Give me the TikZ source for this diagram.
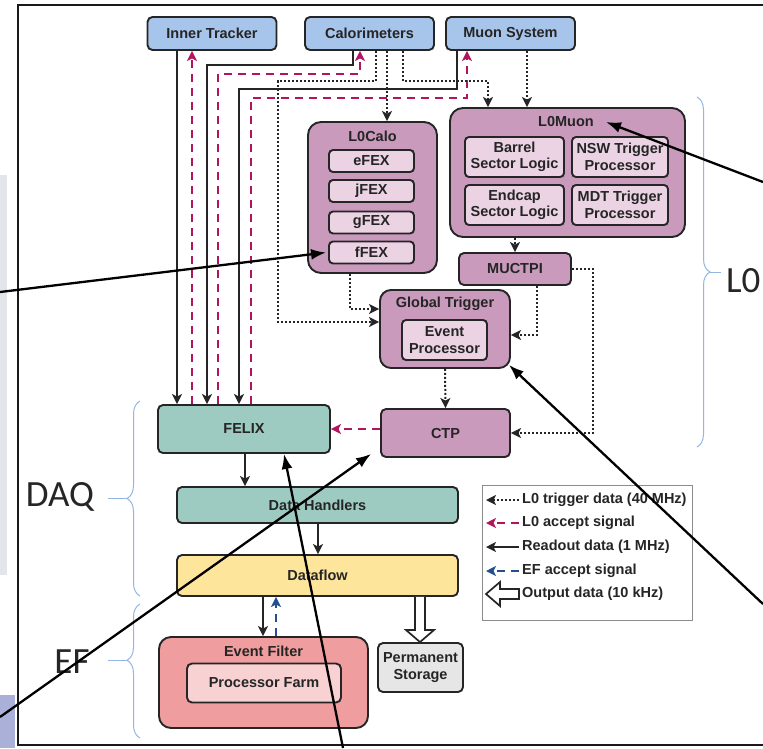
\documentclass[tikz,border=0pt]{standalone}
\usepackage{fontspec}
\setmainfont{Liberation Sans}
\newfontfamily\bracefont{Carlito}
\usepackage{xcolor}
\definecolor{detblue}{HTML}{A7C4EA}
\definecolor{trigpink}{HTML}{C99ABB}
\definecolor{triglight}{HTML}{EBD3E4}
\definecolor{daqteal}{HTML}{9ECBC1}
\definecolor{flowyellow}{HTML}{FDE59B}
\definecolor{efred}{HTML}{F09D9F}
\definecolor{eflight}{HTML}{F8D1D2}
\definecolor{storegray}{HTML}{E6E6E6}
\definecolor{acccrimson}{HTML}{B2155F}
\definecolor{efnavy}{HTML}{23508C}
\definecolor{bracesky}{HTML}{92B7E3}
\definecolor{inkdark}{HTML}{252525}
\definecolor{stripgray}{HTML}{E3E5EA}
\definecolor{stripviolet}{HTML}{AAB0D7}
\usepackage{tikz}
\usetikzlibrary{arrows.meta,positioning,calc,decorations.pathreplacing}

\begin{document}
\begin{tikzpicture}[
  x=1pt, y=-1pt,
  boxfont/.style={font=\fontsize{14.5}{16.5}\selectfont\bfseries},
  blk/.style={rectangle, rounded corners=5pt, draw=inkdark, line width=1.9pt, text=inkdark,
              align=center, inner sep=0pt, boxfont},
  det/.style={blk, fill=detblue, minimum width=129pt, minimum height=33pt},
  trig/.style={blk, fill=trigpink},
  tsub/.style={blk, fill=triglight, rounded corners=4pt},
  daq/.style={blk, fill=daqteal},
  title/.style={text=inkdark, boxfont, inner sep=0pt},
  rd/.style={-{Stealth[length=10pt,width=10pt,inset=2.5pt]}, line width=1.7pt, inkdark},
  trg/.style={rd, line width=2pt, dash pattern=on 2pt off 2pt},
  acc/.style={-{Stealth[length=10pt,width=10pt,inset=2.5pt]}, line width=2.3pt, acccrimson,
              dash pattern=on 8pt off 6pt},
  efacc/.style={acc, efnavy},
  hollow/.style={draw=inkdark, line width=1.7pt, fill=white, line join=miter},
  note/.style={-{Latex[length=15pt,width=11pt]}, line width=2.3pt, black},
  brc/.style={bracesky, line width=1pt},
  grp/.style={font=\bracefont\fontsize{37}{40}\selectfont, text=black!85, inner sep=0pt},
]
\useasboundingbox (0,0) rectangle (763,748);
\clip (0,0) rectangle (763,748);
\fill[white] (0,0) rectangle (763,748);

% ---- bits of the slide beside the frame
\fill[stripgray] (0,175) rectangle (7,575);
\fill[stripviolet] (0,695) rectangle (15,748);
\draw[line width=2.4pt, black!90] (763,5) -- (18,5) -- (18,745) -- (763,745);

% ---- detectors
\node[det] (it) at (212,33.5) {Inner Tracker};
\node[det] (calo) at (369.5,33.5) {Calorimeters};
\node[det] (muon) at (510.5,33.5) {Muon System};

% ---- L0Calo with its four FEX boards
\node[trig, rounded corners=13pt, minimum width=129pt, minimum height=151pt] (l0calo) at (372.5,197.5) {};
\node[title] (l0ct) at (372.5,136) {L0Calo};
\foreach \f/\y in {e/161, j/191, g/222.5, f/252.5}
  \node[tsub, minimum width=85pt, minimum height=22pt] (\f fex) at (371.5,\y) {\f FEX};

% ---- L0Muon
\node[trig, rounded corners=13pt, minimum width=235pt, minimum height=129pt] (l0muon) at (567.5,172.5) {};
\node[title] (l0mt) at (566,122) {L0Muon};
\node[tsub, minimum width=99pt, minimum height=40pt] (barrel) at (514.5,157) {Barrel\\Sector Logic};
\node[tsub, minimum width=96pt, minimum height=40pt] (nsw) at (620,157) {NSW Trigger\\Processor};
\node[tsub, minimum width=99pt, minimum height=40pt] (endcap) at (514.5,205) {Endcap\\Sector Logic};
\node[tsub, minimum width=96pt, minimum height=40pt] (mdt) at (620,205) {MDT Trigger\\Processor};

% ---- central trigger
\node[trig, minimum width=112pt, minimum height=32pt] (muctpi) at (515,269) {MUCTPI};
\node[trig, rounded corners=11pt, minimum width=130pt, minimum height=78pt] (gt) at (445,329) {};
\node[title] (gtt) at (445,304) {Global Trigger};
\node[tsub, minimum width=85pt, minimum height=40pt] (evp) at (444.5,340) {Event\\Processor};
\node[trig, minimum width=129pt, minimum height=48pt] (ctp) at (445.5,433) {CTP};

% ---- readout chain
\node[daq, minimum width=172pt, minimum height=48pt] (felix) at (244,429) {FELIX};
\node[daq, minimum width=281pt, minimum height=36pt] (dh) at (317.5,505) {Data Handlers};
\node[blk, fill=flowyellow, minimum width=281pt, minimum height=41pt] (flow) at (317.5,575.5) {Dataflow};
\node[blk, fill=efred, rounded corners=12pt, minimum width=209pt, minimum height=91pt] (ef) at (263.5,682.5) {};
\node[title] (eft) at (263.5,651) {Event Filter};
\node[blk, fill=eflight, minimum width=154pt, minimum height=39pt] (pfarm) at (264,683) {Processor Farm};
\node[blk, fill=storegray, minimum width=85pt, minimum height=49pt] (store) at (420.5,667.5) {Permanent\\Storage};

% ---- readout data and accept signals
\draw[rd] (it.south -| 177,0) -- (felix.north -| 177,0);
\draw[acc] (felix.north -| 192,0) -- (it.south -| 192,0);
\draw[rd] (calo.south -| 353,0) |- (207,65) -- (felix.north -| 207,0);
\draw[acc] (felix.north -| 218,0) |- (360,74) -- (calo.south -| 360,0);
\draw[rd] (muon.south -| 457,0) |- (239,89) -- (felix.north -| 239,0);
\draw[acc] (felix.north -| 251,0) |- (467,98) -- (muon.south -| 467,0);

% ---- trigger data
\draw[trg] (calo.south -| 376,0) |- (278,81) |- (gt.west |- 0,322);
\draw[trg] (calo.south -| 387,0) -- (l0calo.north -| 387,0);
\draw[trg] (calo.south -| 403,0) |- (488,81) -- (l0muon.north -| 488,0);
\draw[trg] (muon.south -| 527,0) -- (l0muon.north -| 527,0);
\draw[trg] (l0calo.south -| 350,0) |- (gt.west |- 0,309);
\draw[trg] (l0muon.south -| 515,0) -- (muctpi.north -| 515,0);
\draw[trg] (muctpi.south -| 537,0) |- (gt.east |- 0,335);
\draw[trg] (muctpi.east) -| (ctp.east -| 593,0) -- (ctp.east);
\draw[trg] (gt.south) -- (ctp.north);
\draw[acc] (ctp.west |- felix.east) -- (felix.east);

% ---- down to storage
\draw[rd] (felix.south -| 245,0) -- (dh.north -| 245,0);
\draw[rd] (dh.south -| 318,0) -- (flow.north -| 318,0);
\draw[rd] (flow.south -| 263,0) -- (ef.north -| 263,0);
\draw[efacc] (ef.north -| 276,0) -- (flow.south -| 276,0);
\draw[hollow] (flow.south -| 415,0) -- (415,630) -- (406,630) -- (store.north -| 420,0)
  -- (434,630) -- (425,630) -- (flow.south -| 425,0);

% ---- legend
\node[draw=black!45, line width=1pt, fill=white, minimum width=210pt, minimum height=135pt] (legend) at (587,552.5) {};
\node[title, anchor=west] (lg1) at (522,500) {L0 trigger data (40 MHz)};
\node[title, anchor=west] (lg2) at (522,523) {L0 accept signal};
\node[title, anchor=west] (lg3) at (522,547) {Readout data (1 MHz)};
\node[title, anchor=west] (lg4) at (522,571) {EF accept signal};
\node[title, anchor=west] (lg5) at (522,594) {Output data (10 kHz)};
\draw[trg] ([xshift=-3pt]lg1.west) -- ([xshift=-36pt]lg1.west);
\draw[acc] ([xshift=-3pt]lg2.west) -- ([xshift=-36pt]lg2.west);
\draw[rd] ([xshift=-3pt]lg3.west) -- ([xshift=-36pt]lg3.west);
\draw[efacc] ([xshift=-3pt]lg4.west) -- ([xshift=-36pt]lg4.west);
\draw[hollow] ($(lg5.west)+(-3,-5)$) -- ($(lg5.west)+(-22,-5)$) -- ($(lg5.west)+(-22,-12)$)
  -- ($(lg5.west)+(-36,0)$) -- ($(lg5.west)+(-22,12)$) -- ($(lg5.west)+(-22,5)$)
  -- ($(lg5.west)+(-3,5)$) -- cycle;

% ---- braces for the levels
\draw[brc, decorate, decoration={brace, amplitude=13pt}] (697,97) -- (697,447);
\draw[brc] (710,272) -- (721,272);
\node[grp, anchor=west] (l0lab) at (726,281) {L0};
\draw[brc, decorate, decoration={brace, amplitude=13pt}] (140,596) -- (140,401);
\draw[brc] (127,498.5) -- (108,498.5);
\node[grp] (daqlab) at (60,497) {DAQ};
\draw[brc, decorate, decoration={brace, amplitude=13pt, aspect=0.58}] (140,738) -- (140,604);
\draw[brc] (127,660) -- (108,660);
\node[grp] (eflab) at (72,662) {EF};

% ---- pointers drawn over the slide
\coordinate (pL) at (0,292);
\coordinate (pR) at (763,182);
\coordinate (pG) at (763,604);
\coordinate (pC) at (0,717);
\coordinate (pF) at (343,748);
\draw[note] (pL) -- ([xshift=-2pt]ffex.west);
\draw[note] (pR) -- ([xshift=12pt]l0mt.east);
\draw[note] (pG) -- ([shift={(-2pt,4pt)}]gt.south east);
\draw[note] (pC) -- ([xshift=-9pt,yshift=4pt]ctp.south west);
\draw[note] (pF) -- (felix.south -| 284,0);
\end{tikzpicture}
\end{document}
